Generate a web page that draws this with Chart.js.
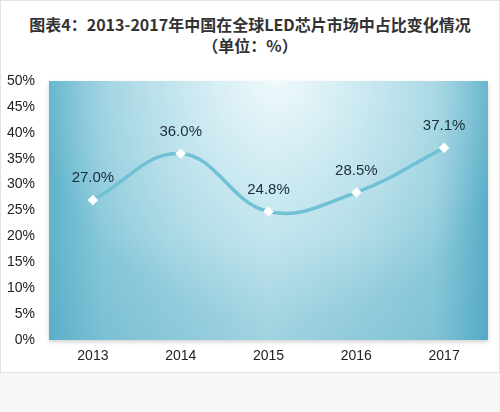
<!DOCTYPE html>
<html>
<head>
<meta charset="utf-8">
<script src="https://cdn.jsdelivr.net/npm/chart.js@4/dist/chart.umd.min.js"></script>
<style>
  html, body { margin: 0; padding: 0; background: #f7f7f7; }
  #wrap { position: relative; width: 500px; height: 412px; }
  #card { position: absolute; left: 0; top: 0; width: 498px; height: 371px; background: #fff; border: 1px solid #e2e2e2; }
  #title {
    position: absolute; left: 0; top: 14px; width: 500px; text-align: center;
    font-family: "Noto Sans CJK SC", sans-serif; font-weight: bold; font-size: 16px;
    line-height: 21px; color: #333;
  }
  canvas { position: absolute; left: 0; top: 0; }
</style>
</head>
<body>
<div id="wrap">
  <div id="card"></div>
  <div id="title">图表4：2013-2017年中国在全球LED芯片市场中占比变化情况<br>（单位：%）</div>
  <canvas id="c" width="500" height="412"></canvas>
</div>
<script>
const years = ["2013", "2014", "2015", "2016", "2017"];
const share = [27.0, 36.0, 24.8, 28.5, 37.1];
const yTicks = [0, 5, 10, 15, 20, 25, 30, 35, 40, 45, 50];

// blue glossy background behind the plot
const plotBg = {
  id: "plotBg",
  beforeDatasetsDraw(chart) {
    const { ctx, chartArea: a } = chart;
    const w = a.right - a.left, h = a.bottom - a.top;
    ctx.save();
    ctx.shadowColor = "rgba(0,0,0,0.18)";
    ctx.shadowBlur = 4;
    ctx.shadowOffsetY = 2;
    const g = ctx.createLinearGradient(a.left, 0, a.right, 0);
    g.addColorStop(0, "#5fb3cb");
    g.addColorStop(0.12, "#86c7d9");
    g.addColorStop(0.5, "#b2dde8");
    g.addColorStop(0.88, "#8ccada");
    g.addColorStop(1, "#58adc8");
    ctx.fillStyle = g;
    ctx.fillRect(a.left, a.top, w, h);
    ctx.restore();

    ctx.save();
    const r = ctx.createRadialGradient(a.left + w * 0.52, a.top, 5, a.left + w * 0.52, a.top, w * 0.55);
    r.addColorStop(0, "rgba(240,250,252,0.95)");
    r.addColorStop(0.45, "rgba(225,243,248,0.55)");
    r.addColorStop(1, "rgba(225,243,248,0)");
    ctx.fillStyle = r;
    ctx.fillRect(a.left, a.top, w, h);
    const v = ctx.createLinearGradient(0, a.top, 0, a.bottom);
    v.addColorStop(0, "rgba(60,150,180,0)");
    v.addColorStop(0.6, "rgba(60,150,180,0)");
    v.addColorStop(1, "rgba(60,150,180,0.15)");
    ctx.fillStyle = v;
    ctx.fillRect(a.left, a.top, w, h);
    ctx.restore();
  }
};

// value labels above each point
const valueLabels = {
  id: "valueLabels",
  afterDatasetsDraw(chart) {
    const { ctx } = chart;
    const meta = chart.getDatasetMeta(0);
    ctx.save();
    ctx.font = "15px 'Liberation Sans', Arial, sans-serif";
    ctx.fillStyle = "#1c2b3a";
    ctx.textAlign = "center";
    ctx.textBaseline = "middle";
    meta.data.forEach((pt, i) => {
      ctx.fillText(share[i].toFixed(1) + "%", pt.x, pt.y - 22);
    });
    ctx.restore();
  }
};

new Chart(document.getElementById("c"), {
  type: "line",
  data: {
    labels: years,
    datasets: [{
      data: share,
      borderColor: "#70c1d4",
      borderWidth: 3.5,
      tension: 0.4,
      pointStyle: "rectRot",
      pointRadius: 5,
      pointBackgroundColor: "#ffffff",
      pointBorderColor: "#e8f4f7",
      pointBorderWidth: 1
    }]
  },
  options: {
    responsive: false,
    animation: false,
    layout: { padding: { top: 81, left: 0, right: 12, bottom: 40 } },
    plugins: { legend: { display: false }, tooltip: { enabled: false } },
    scales: {
      x: {
        offset: true,
        grid: { display: false, drawTicks: false },
        border: { display: false },
        ticks: { color: "#222", font: { family: "'Liberation Sans', Arial", size: 14 }, padding: 8 },
        afterFit(s) { s.height = 32; }
      },
      y: {
        min: 0,
        max: 50,
        afterBuildTicks(s) { s.ticks = yTicks.map(v => ({ value: v })); },
        grid: { display: false, drawTicks: false },
        border: { display: false },
        ticks: {
          color: "#222",
          font: { family: "'Liberation Sans', Arial", size: 14 },
          padding: 14,
          callback: v => v + "%"
        },
        afterFit(s) { s.width = 49; }
      }
    }
  },
  plugins: [plotBg, valueLabels]
});
</script>
</body>
</html>
